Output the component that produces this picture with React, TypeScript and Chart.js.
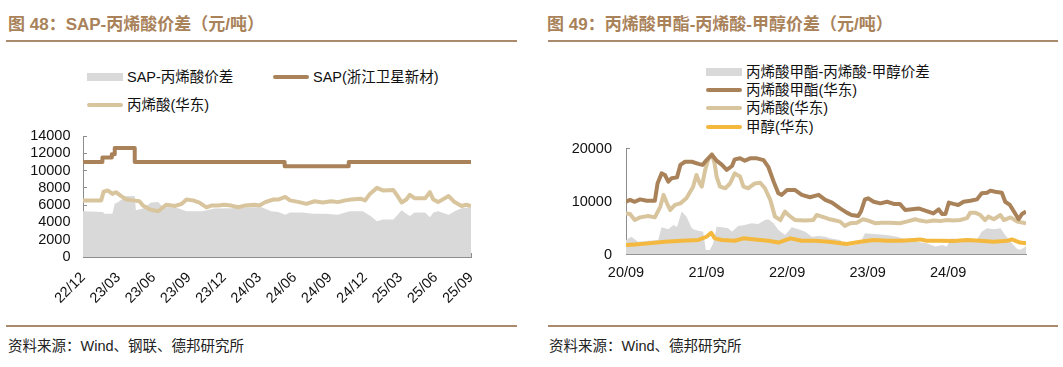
import React, { useEffect, useRef } from "react";
import { Chart, registerables } from "chart.js";

Chart.register(...registerables);

// ---------- Left chart (图 48) : x = months since 2022/12 ----------
const leftTickMonths = [0, 3, 6, 9, 12, 15, 18, 21, 24, 27, 30, 33];
const leftTickLabels = ["22/12", "23/03", "23/06", "23/09", "23/12", "24/03", "24/06", "24/09", "24/12", "25/03", "25/06", "25/09"];

// SAP price (Zhejiang Satellite), step changes: [month, price]
const leftSap: [number, number][] = [
  [0, 11000], [1.65, 11500], [2.45, 11900], [2.7, 12600], [4.4, 11000],
  [17.15, 10500], [22.6, 11000], [33, 11000],
];

// Acrylic acid (East China): [month, price]
const leftAcid: [number, number][] = [
  [0, 6550], [1.55, 6550], [1.75, 7550], [2.1, 7700], [2.5, 7300], [2.8, 7500], [3.25, 7050],
  [3.7, 6650], [4.25, 6550], [4.8, 6450], [5.1, 5950], [5.7, 5500], [6.4, 5300], [6.8, 5750],
  [7.1, 6050], [7.8, 5900], [8.4, 6150], [8.8, 6650], [9.35, 6550], [9.9, 6300], [10.5, 5750],
  [10.9, 5950], [11.5, 5950], [12.0, 6050], [12.6, 5950], [13.2, 5750], [13.75, 5950], [14.6, 6050],
  [15.0, 5950], [15.5, 6350], [16.2, 6650], [16.6, 6650], [17.2, 6950], [17.6, 6550], [18.4, 6350],
  [19.0, 6150], [19.7, 6450], [20.4, 6300], [21.1, 6450], [21.7, 6350], [22.3, 6550], [22.8, 6650],
  [23.6, 6750], [24.0, 6550], [24.4, 7300], [25.0, 8000], [25.5, 7700], [26.4, 7750], [26.8, 6950],
  [27.1, 6300], [27.5, 6650], [27.8, 7200], [28.2, 6800], [29.1, 6800], [29.5, 7500], [29.8, 6650],
  [30.2, 6350], [31.1, 7050], [31.6, 6350], [32.2, 5900], [32.6, 6050], [33, 5900],
];

// SAP - acrylic acid spread: [month, value]
const leftSpread: [number, number][] = [
  [0, 5300], [1.7, 5200], [1.8, 5000], [2.5, 5000], [2.7, 6150], [3.0, 6350], [3.7, 7050],
  [4.4, 7050], [4.5, 5400], [5.1, 5600], [5.8, 6300], [6.4, 6350], [6.8, 5750], [7.4, 5750],
  [8.1, 5650], [8.8, 5300], [10.1, 5300], [11.2, 5600], [12.6, 5650], [14.0, 5750], [15.2, 5750],
  [16.0, 5300], [16.6, 5200], [17.2, 4900], [17.6, 5150], [18.7, 5150], [19.5, 5000], [20.6, 5000],
  [21.7, 4900], [22.3, 5150], [22.7, 5300], [23.8, 5300], [24.4, 4800], [25.0, 4150], [25.5, 4350],
  [26.4, 4350], [27.1, 5400], [27.5, 5000], [27.8, 4750], [28.2, 5150], [29.1, 5150], [29.5, 4600],
  [29.8, 5150], [30.2, 5300], [31.1, 4900], [31.6, 5300], [32.2, 5650], [33, 5750],
];

// ---------- Right chart (图 49) : x = months since 2020/09 ----------
const rightTickMonths = [0, 12, 24, 36, 48];
const rightTickLabels = ["20/09", "21/09", "22/09", "23/09", "24/09"];

// Methyl acrylate (East China)
const rightMa: [number, number][] = [
  [0, 9950], [0.6, 10300], [1.3, 9950], [2.1, 10400], [3.1, 10150], [4.3, 10150], [4.7, 13400],
  [5.3, 15300], [5.8, 15000], [6.3, 13750], [6.8, 14400], [7.6, 14550], [8.1, 16900], [8.8, 17500],
  [9.8, 17500], [10.8, 17100], [11.4, 16900], [12.0, 17800], [12.8, 18800], [13.5, 17700], [14.3, 16900],
  [15.0, 15950], [15.8, 16700], [16.2, 17950], [17.0, 18150], [17.7, 17700], [18.5, 18150], [19.5, 18150],
  [20.5, 17800], [21.2, 16550], [22.0, 13750], [22.7, 11550], [23.2, 11250], [24.0, 12150], [25.2, 12150],
  [26.2, 11250], [27.4, 10800], [28.7, 11250], [29.7, 10300], [30.7, 9800], [31.9, 8700], [32.9, 7900],
  [33.6, 7450], [34.6, 7250], [35.0, 8100], [35.6, 10400], [36.1, 10600], [36.9, 9950], [37.9, 9650],
  [38.9, 9950], [39.9, 9550], [40.8, 9550], [41.6, 8400], [42.3, 8500], [43.6, 8700], [44.8, 8200],
  [45.8, 7750], [46.6, 8500], [47.1, 7650], [47.6, 7650], [48.1, 9800], [48.8, 9550], [49.5, 9350],
  [50.3, 9950], [51.3, 10150], [52.3, 10400], [53.0, 11550], [53.8, 11650], [54.3, 12050], [55.0, 11850],
  [56.0, 11650], [56.5, 9950], [57.2, 9350], [57.8, 8100], [58.5, 6650], [59.0, 7650], [59.6, 8100],
];

// Acrylic acid (East China)
const rightAcid: [number, number][] = [
  [0, 7750], [0.6, 7650], [1.3, 6500], [2.1, 7000], [3.3, 7250], [4.3, 7000], [5.1, 9000], [5.6, 11250],
  [6.1, 9650], [6.6, 8400], [7.3, 9350], [8.1, 9650], [9.0, 10600], [10.0, 12800], [10.5, 15000],
  [11.0, 13400], [11.3, 12800], [11.8, 15950], [12.3, 18150], [12.8, 18950], [13.2, 17200], [13.5, 14700],
  [14.0, 12800], [14.8, 12500], [15.5, 13400], [16.2, 15300], [17.0, 14700], [17.5, 12800], [18.2, 12500],
  [19.2, 13400], [20.0, 13550], [20.7, 12500], [21.5, 10300], [22.2, 7150], [23.0, 6500], [23.7, 8100],
  [24.2, 7450], [25.2, 6500], [26.7, 6400], [27.9, 6500], [28.4, 7450], [29.2, 7150], [30.2, 6700],
  [30.9, 6500], [31.9, 6200], [32.6, 5400], [33.4, 5900], [34.4, 6000], [35.3, 6650], [36.1, 6400],
  [37.1, 5900], [38.1, 6000], [39.3, 6000], [40.8, 5900], [41.8, 6200], [43.1, 6650], [43.8, 6400],
  [44.8, 6200], [45.8, 6400], [46.8, 6300], [47.8, 6500], [48.8, 6400], [49.8, 6500], [50.8, 6850],
  [51.3, 7900], [52.0, 7900], [52.8, 7450], [53.5, 6500], [54.0, 7150], [54.8, 6650], [55.8, 7450],
  [56.3, 6500], [57.3, 7000], [58.3, 6200], [59.6, 5900],
];

// Methanol (East China)
const rightMethanol: [number, number][] = [
  [0, 1800], [1.3, 1900], [3.3, 2100], [5.8, 2400], [8.3, 2600], [10.8, 2750], [12.0, 3350], [12.7, 4100],
  [13.2, 3050], [14.3, 2750], [16.2, 2600], [17.5, 3050], [19.2, 2850], [21.2, 2600], [22.7, 2250],
  [24.5, 3050], [26.2, 2600], [28.2, 2600], [30.2, 2400], [32.9, 2000], [34.9, 2400], [36.9, 2750],
  [38.9, 2600], [40.8, 2600], [42.8, 2750], [43.8, 2850], [44.8, 2600], [46.8, 2600], [48.8, 2550],
  [50.8, 2750], [52.8, 2600], [54.8, 2400], [56.8, 2600], [57.5, 2850], [58.7, 2250], [59.6, 2100],
];

// Methyl acrylate - acrylic acid - methanol spread
const rightSpread: [number, number][] = [
  [0, 2750], [0.8, 3350], [1.8, 2400], [3.3, 2600], [4.8, 2750], [5.3, 5150], [6.3, 4750], [7.1, 5550],
  [7.6, 5200], [8.3, 8100], [9.0, 7150], [9.8, 4950], [10.3, 4600], [11.5, 4300], [11.9, 850], [12.5, 850],
  [13.0, 2100], [13.5, 5250], [14.3, 5150], [15.2, 4950], [15.8, 4300], [16.7, 5400], [17.7, 5550],
  [18.7, 5900], [19.7, 5750], [20.7, 6500], [21.2, 6650], [22.0, 5900], [22.7, 4600], [23.7, 3700],
  [24.7, 5150], [25.7, 4750], [26.7, 4300], [27.7, 3350], [28.7, 3500], [29.7, 3350], [30.4, 3050],
  [31.9, 2750], [32.9, 1600], [33.9, 1800], [34.9, 2100], [35.6, 4000], [36.9, 3850], [38.9, 3700],
  [40.4, 3350], [41.9, 2750], [43.4, 2400], [44.8, 2100], [46.1, 1500], [47.1, 1800], [47.8, 1500],
  [48.5, 3050], [49.8, 2750], [51.3, 2750], [52.3, 2850], [53.0, 4300], [53.8, 4950], [54.8, 4750],
  [55.8, 4950], [56.5, 3700], [57.5, 2100], [58.2, 1150], [58.7, 850], [59.6, 1500],
];

// ---------- styles ----------
const BROWN = "#a9825a";
const TAN = "#d8c59e";
const GREY = "#d9d9d9";
const ORANGE = "#f3b83d";
const TITLE = "#a9825a";
const AXIS = "#8c8c8c";
const LATIN = '"Liberation Sans", Arial, "Noto Sans CJK SC", sans-serif';

const pts = (arr: [number, number][]) => arr.map(([x, y]) => ({ x, y }));

function lineDs(label: string, arr: [number, number][], color: string, order: number, extra: any = {}) {
  return {
    label,
    data: pts(arr),
    borderColor: color,
    backgroundColor: color,
    borderWidth: 4,
    pointRadius: 0,
    fill: false,
    tension: 0,
    borderJoinStyle: "round",
    order,
    ...extra,
  };
}

function areaDs(label: string, arr: [number, number][]) {
  return {
    label,
    data: pts(arr),
    borderColor: "rgba(0,0,0,0)",
    borderWidth: 0,
    backgroundColor: GREY,
    pointRadius: 0,
    fill: "origin",
    tension: 0,
    order: 10,
  };
}

const tickFont = { family: LATIN, size: 14.5 };

function makeConfig(opts: {
  datasets: any[];
  xMax: number;
  tickMonths: number[];
  tickLabels: string[];
  rotate: boolean;
  yMax: number;
  yStep: number;
  padding: any;
  yWidth: number;
  xHeight: number;
  yPad: number;
  xPad: number;
}): any {
  return {
    type: "line",
    data: { datasets: opts.datasets },
    options: {
      responsive: false,
      animation: false,
      events: [],
      layout: { padding: opts.padding },
      plugins: { legend: { display: false }, tooltip: { enabled: false }, title: { display: false } },
      scales: {
        x: {
          type: "linear",
          min: 0,
          max: opts.xMax,
          afterBuildTicks: (s: any) => {
            s.ticks = opts.tickMonths.map((v) => ({ value: v }));
          },
          afterFit: (s: any) => {
            s.height = opts.xHeight;
            s.paddingLeft = 0;
            s.paddingRight = 0;
          },
          ticks: {
            autoSkip: false,
            minRotation: opts.rotate ? 45 : 0,
            maxRotation: opts.rotate ? 45 : 0,
            padding: opts.xPad,
            color: "#111",
            font: tickFont,
            callback: (v: number) => {
              const i = opts.tickMonths.indexOf(v);
              return i >= 0 ? opts.tickLabels[i] : "";
            },
          },
          grid: { drawOnChartArea: false, drawTicks: true, tickLength: -4, color: AXIS, lineWidth: 1 },
          border: { display: true, color: AXIS, width: 1 },
        },
        y: {
          min: 0,
          max: opts.yMax,
          afterFit: (s: any) => {
            s.width = opts.yWidth;
            s.paddingTop = 0;
            s.paddingBottom = 0;
          },
          ticks: {
            stepSize: opts.yStep,
            autoSkip: false,
            padding: opts.yPad,
            color: "#111",
            font: tickFont,
            callback: (v: number) => String(v),
          },
          grid: { drawOnChartArea: false, drawTicks: true, tickLength: -4, color: AXIS, lineWidth: 1 },
          border: { display: true, color: AXIS, width: 1 },
        },
      },
    },
  };
}

function ChartCanvas({ config, left, top, width, height }: any) {
  const ref = useRef<HTMLCanvasElement | null>(null);
  useEffect(() => {
    if (!ref.current) return;
    const chart = new Chart(ref.current, config);
    return () => chart.destroy();
  }, []);
  return (
    <canvas
      ref={ref}
      width={width}
      height={height}
      style={{ position: "absolute", left, top, width, height }}
    />
  );
}

function LegendItem({ kind, color, label, x, y }: any) {
  const swatch =
    kind === "box"
      ? { position: "absolute" as const, left: x, top: y - 4, width: 36, height: 8, background: color }
      : { position: "absolute" as const, left: x, top: y - 2, width: 36, height: 4, background: color, borderRadius: 2 };
  return (
    <>
      <div style={swatch} />
      <div
        style={{
          position: "absolute",
          left: x + 40,
          top: y - 10,
          height: 20,
          lineHeight: "20px",
          fontSize: 14.5,
          fontFamily: LATIN,
          color: "#111",
          whiteSpace: "nowrap",
        }}
      >
        {label}
      </div>
    </>
  );
}

const titleStyle = (left: number): React.CSSProperties => ({
  position: "absolute",
  left,
  top: 14,
  height: 22,
  lineHeight: "22px",
  fontSize: 17,
  fontWeight: "bold",
  fontFamily: LATIN,
  color: TITLE,
  whiteSpace: "nowrap",
});

const ruleStyle = (left: number, width: number, top: number): React.CSSProperties => ({
  position: "absolute",
  left,
  top,
  width,
  height: 2,
  background: "#a98a6a",
});

const sourceStyle = (left: number): React.CSSProperties => ({
  position: "absolute",
  left,
  top: 336,
  height: 20,
  lineHeight: "20px",
  fontSize: 14.5,
  fontFamily: LATIN,
  color: "#222",
  whiteSpace: "nowrap",
});

export default function App() {
  const leftConfig = makeConfig({
    datasets: [
      areaDs("SAP-丙烯酸价差", leftSpread),
      lineDs("SAP(浙江卫星新材)", leftSap, BROWN, 1, { stepped: true }),
      lineDs("丙烯酸(华东)", leftAcid, TAN, 2),
    ],
    xMax: 33,
    tickMonths: leftTickMonths,
    tickLabels: leftTickLabels,
    rotate: true,
    yMax: 14000,
    yStep: 2000,
    padding: { left: 0, top: 16, right: 59, bottom: 0 },
    yWidth: 83,
    xHeight: 73,
    yPad: 16.5,
    xPad: 16,
  });

  const rightConfig = makeConfig({
    datasets: [
      areaDs("丙烯酸甲酯-丙烯酸-甲醇价差", rightSpread),
      lineDs("丙烯酸甲酯(华东)", rightMa, BROWN, 2),
      lineDs("丙烯酸(华东)", rightAcid, TAN, 3),
      lineDs("甲醇(华东)", rightMethanol, ORANGE, 1),
    ],
    xMax: 59.6,
    tickMonths: rightTickMonths,
    tickLabels: rightTickLabels,
    rotate: false,
    yMax: 20000,
    yStep: 10000,
    padding: { left: 0, top: 18.5, right: 37, bottom: 0 },
    yWidth: 86,
    xHeight: 75.5,
    yPad: 18,
    xPad: 14,
  });

  return (
    <div style={{ position: "absolute", left: 0, top: 0, width: 1063, height: 367, background: "#fff", overflow: "hidden" }}>
      <div style={titleStyle(8)}>图 48：SAP-丙烯酸价差（元/吨）</div>
      <div style={ruleStyle(6, 511, 40)} />
      <div style={titleStyle(547)}>图 49：丙烯酸甲酯-丙烯酸-甲醇价差（元/吨）</div>
      <div style={ruleStyle(548, 510, 40)} />

      <LegendItem kind="box" color={GREY} label="SAP-丙烯酸价差" x={87} y={77} />
      <LegendItem kind="line" color={BROWN} label="SAP(浙江卫星新材)" x={273} y={77} />
      <LegendItem kind="line" color={TAN} label="丙烯酸(华东)" x={87} y={105} />

      <LegendItem kind="box" color={GREY} label="丙烯酸甲酯-丙烯酸-甲醇价差" x={706} y={72} />
      <LegendItem kind="line" color={BROWN} label="丙烯酸甲酯(华东)" x={706} y={90} />
      <LegendItem kind="line" color={TAN} label="丙烯酸(华东)" x={706} y={108} />
      <LegendItem kind="line" color={ORANGE} label="甲醇(华东)" x={706} y={127} />

      <ChartCanvas config={leftConfig} left={0} top={120} width={530} height={210} />
      <ChartCanvas config={rightConfig} left={540} top={130} width={523} height={200} />

      <div style={ruleStyle(6, 511, 325)} />
      <div style={ruleStyle(548, 510, 325)} />
      <div style={sourceStyle(8)}>资料来源：Wind、钢联、德邦研究所</div>
      <div style={sourceStyle(549)}>资料来源：Wind、德邦研究所</div>
    </div>
  );
}
